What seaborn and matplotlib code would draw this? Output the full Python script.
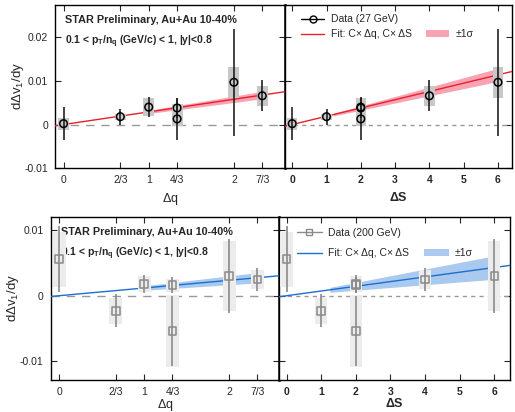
import numpy as np
import pandas as pd
import matplotlib
matplotlib.use("Agg")
import matplotlib.pyplot as plt
import seaborn as sns
from matplotlib.lines import Line2D
from matplotlib.patches import Patch, Rectangle

# (delta q, delta S) of the seven particle combinations
dq = [0, 2/3, 1, 4/3, 4/3, 7/3, 2]
dS = [0, 1, 2, 2, 2, 4, 6]

# 27 GeV
v27 = [0.0002, 0.0018, 0.0040, 0.0038, 0.0013, 0.0066, 0.0097]
stat27 = [0.0038, 0.0018, 0.0023, 0.0022, 0.0048, 0.0036, 0.0123]
sys27 = [0.0014, 0.0007, 0.0020, 0.0010, 0.0016, 0.0023, 0.0036]

# 200 GeV
v200 = [0.0056, -0.0023, 0.0018, 0.0016, -0.0054, 0.0025, 0.0030]
stat200 = [0.0050, 0.0025, 0.0014, 0.0012, 0.0053, 0.0018, 0.0057]
sys200 = [0.0042, 0.0020, 0.0012, 0.0010, 0.0055, 0.0015, 0.0053]

# fit slopes and 1 sigma
fit27 = {"q": (0.0029, 0.00037), "S": (0.0019, 0.00025)}
fit200 = {"q": (0.00118, 0.00034), "S": (0.00072, 0.00030)}
band_q = (1.0, 2.35)
band_S = (1.2, 6.05)

q_ticks = [0, 2/3, 1, 4/3, 2, 7/3]
q_labels = ["0", "2/3", "1", "4/3", "2", "7/3"]
S_ticks = [0, 1, 2, 3, 4, 5, 6]

sns.set_style("ticks")
plt.rcParams['font.family'] = ['Liberation Sans', 'DejaVu Sans']
plt.rcParams['mathtext.fontset'] = 'custom'
plt.rcParams['mathtext.rm'] = 'Liberation Sans'
plt.rcParams['mathtext.it'] = 'Liberation Sans'
plt.rcParams['mathtext.bf'] = 'Liberation Sans:bold'

fig = plt.figure(figsize=(5.15, 4.12), dpi=100)
ax_tl = fig.add_axes([0.1068, 0.592, 0.4466, 0.3965])
ax_tr = fig.add_axes([0.5534, 0.592, 0.4402, 0.3965])
ax_bl = fig.add_axes([0.0984, 0.0777, 0.4439, 0.3964])
ax_br = fig.add_axes([0.5423, 0.0777, 0.4480, 0.3964])


def draw_panel(ax, x, y, stat, sys, slope, band, xlim, ylim, style):
    x = np.asarray(x, float)
    y = np.asarray(y)
    c, s = slope
    xs = np.linspace(xlim[0], xlim[1], 50)
    xb = np.linspace(band[0], band[1], 50)
    ax.fill_between(xb, (c - s) * xb, (c + s) * xb, color=style["band"],
                    lw=0, zorder=2)
    fit = pd.DataFrame({"x": xs, "y": c * xs})
    sns.lineplot(data=fit, x="x", y="y", ax=ax, color=style["line"], lw=1.0,
                 zorder=3)
    ax.axhline(0, color="#999999", lw=1.0, ls=(0, style["dash"]), zorder=1)
    w = style["boxw"]
    for xi, yi, si in zip(x, y, sys):
        ax.add_patch(Rectangle((xi - w / 2, yi - si), w, 2 * si,
                               color=style["sys"], lw=0, zorder=4))
    ax.errorbar(x, y, yerr=stat, fmt="none", ecolor=style["err"], elinewidth=1.2,
                capsize=0, zorder=5)
    pts = pd.DataFrame({"x": x, "y": y})
    sns.scatterplot(data=pts, x="x", y="y", ax=ax, marker=style["marker"],
                    s=style["ms"], facecolor="none", edgecolor=style["mec"],
                    linewidth=1.1, zorder=6)
    ax.set_xlim(xlim)
    ax.set_ylim(ylim)
    ax.set_xlabel("")
    ax.set_ylabel("")
    ax.tick_params(direction="in", top=True, right=True, length=4, width=0.8,
                   labelsize=7.5, pad=5)
    for sp in ax.spines.values():
        sp.set_linewidth(1.0)
        sp.set_color("black")


top_style = {"band": "#f7a3b3", "line": "#e8202a", "sys": "#c8c8c8",
             "err": "#222222", "marker": "o", "ms": 30, "mec": "black",
             "dash": (6, 5)}
bot_style = {"band": "#a9c9ef", "line": "#1c6fd0", "sys": "#ececec",
             "err": "#8a8a8a", "marker": "s", "ms": 30, "mec": "#8a8a8a",
             "dash": (6, 5)}

ylim_top = (-0.01, 0.0275)
ylim_bot = (-0.0129, 0.0121)

draw_panel(ax_tl, dq, v27, stat27, sys27, fit27["q"], band_q, (-0.1, 2.6),
           ylim_top, dict(top_style, boxw=0.13))
draw_panel(ax_tr, dS, v27, stat27, sys27, fit27["S"], band_S, (-0.21, 6.4),
           ylim_top, dict(top_style, boxw=0.3, dash=(3, 3)))
draw_panel(ax_bl, dq, v200, stat200, sys200, fit200["q"], band_q, (-0.1, 2.59),
           ylim_bot, dict(bot_style, boxw=0.15))
draw_panel(ax_br, dS, v200, stat200, sys200, fit200["S"], (1.25, 5.9),
           (-0.21, 6.45), ylim_bot, dict(bot_style, boxw=0.35, dash=(3, 3)))

for ax, lp in ((ax_tl, 4), (ax_bl, 0)):
    ax.set_xticks(q_ticks)
    ax.set_xticklabels(q_labels)
    ax.set_ylabel(r"d$\Delta$v$_1$/dy", fontsize=9.5, labelpad=-1)
    ax.set_xlabel(r"$\Delta$q", fontsize=9, labelpad=lp)
ax_tl.set_yticks([-0.01, 0, 0.01, 0.02])
ax_tl.set_yticklabels(["-0.01", "0", "0.01", "0.02"])
ax_bl.set_yticks([-0.01, 0, 0.01])
ax_bl.set_yticklabels(["-0.01", "0", "0.01"])

for ax, lp in ((ax_tr, 4), (ax_br, 0)):
    ax.set_xticks(S_ticks)
    ax.set_xticklabels([str(t) for t in S_ticks], fontweight="bold")
    ax.tick_params(labelleft=False)
    ax.set_xlabel(r"$\mathbf{\Delta S}$", fontsize=9, labelpad=lp)
ax_tr.set_yticks([-0.01, 0, 0.01, 0.02])
ax_br.set_yticks([-0.01, 0, 0.01])

# divider lines between panels drawn heavier
ax_tl.spines["right"].set_linewidth(1.8)
ax_bl.spines["right"].set_linewidth(1.8)

for ax in (ax_tl, ax_bl):
    ax.text(0.045, 0.905, "STAR Preliminary, Au+Au 10-40%", transform=ax.transAxes,
            fontsize=7.8, fontweight="bold", va="center")
    ax.text(0.045, 0.775,
            r"0.1 < p$_\mathbf{T}$/n$_\mathbf{q}$ (GeV/c) < 1, |y|<0.8",
            transform=ax.transAxes, fontsize=7.5, fontweight="bold", va="center")

leg_top = [
    Line2D([], [], color="black", marker="o", mfc="none", mec="black", lw=1, ms=5),
    Line2D([], [], color=top_style["line"], lw=1),
    Line2D([], [], color="none"),
    Patch(color=top_style["band"], lw=0),
]
ax_tr.legend(leg_top, ["Data (27 GeV)", "Fit: C\u00d7 \u0394q, C\u00d7 \u0394S", "",
                       "\u00b11\u03c3"],
             ncol=2, loc="upper left", frameon=False, fontsize=7.5,
             handlelength=2.2, handletextpad=0.6, columnspacing=1.4,
             labelspacing=0.45, bbox_to_anchor=(0.04, 0.985), borderaxespad=0.3)

leg_bot = [
    Line2D([], [], color="#8a8a8a", marker="s", mfc="none", mec="#8a8a8a", lw=1, ms=5),
    Line2D([], [], color=bot_style["line"], lw=1),
    Line2D([], [], color="none"),
    Patch(color=bot_style["band"], lw=0),
]
ax_br.legend(leg_bot, ["Data (200 GeV)", "Fit: C\u00d7 \u0394q, C\u00d7 \u0394S", "",
                       "\u00b11\u03c3"],
             ncol=2, loc="upper left", frameon=False, fontsize=7.5,
             handlelength=2.4, handletextpad=0.6, columnspacing=1.4,
             labelspacing=1.0, bbox_to_anchor=(0.045, 0.975), borderaxespad=0.3)

fig.savefig("out.png", dpi=100)
